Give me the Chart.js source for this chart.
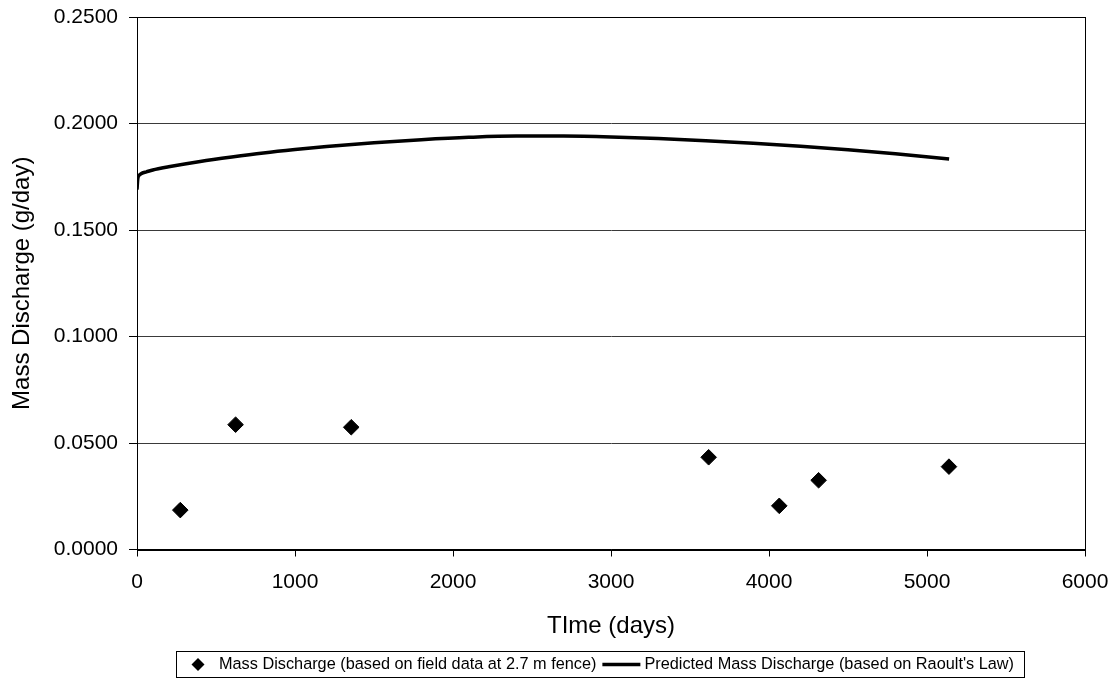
<!DOCTYPE html>
<html><head><meta charset="utf-8">
<script src="https://cdn.jsdelivr.net/npm/chart.js@4.4.1/dist/chart.umd.min.js"></script>
<style>html,body{margin:0;padding:0;background:#fff}</style>
</head><body>
<canvas id="c" width="1119" height="686"></canvas>
<script>
const fieldDays = [274, 624, 1356, 3618, 4065, 4314, 5139];
const fieldDischarge = [0.0185, 0.0586, 0.0574, 0.0433, 0.0205, 0.0325, 0.0389];
const predDays = [0, 5, 15, 30, 60, 100, 200, 400, 600, 800, 1000, 1200, 1500, 1800, 2100, 2400, 2700, 3000, 3300, 3600, 3900, 4200, 4500, 4800, 5140];
const predDischarge = [0.1690, 0.1740, 0.1758, 0.1766, 0.1773, 0.1782, 0.1797, 0.1822, 0.1843, 0.1862, 0.1878, 0.1892, 0.1910, 0.1924, 0.1935, 0.1941, 0.1941, 0.1937, 0.1929, 0.1919, 0.1907, 0.1893, 0.1877, 0.1858, 0.1833];
const seriesNames = ["Mass Discharge (based on field data at 2.7 m fence)", "Predicted Mass Discharge (based on Raoult's Law)"];
const xTitle = "TIme (days)";
const yTitle = "Mass Discharge (g/day)";

const FONT = "'Liberation Sans', Arial, sans-serif";

const boxPlugin = {
  id: 'box',
  afterDraw(chart) {
    const {ctx, chartArea: a} = chart;
    ctx.save();
    ctx.strokeStyle = '#000';
    ctx.lineWidth = 1;
    ctx.strokeRect(Math.round(a.left) + 0.5, Math.round(a.top) + 0.5, Math.round(a.right - a.left), Math.round(a.bottom - a.top));
    // legend
    ctx.font = '16.3px ' + FONT;
    ctx.textBaseline = 'middle';
    const w1 = ctx.measureText(seriesNames[0]).width;
    const w2 = ctx.measureText(seriesNames[1]).width;
    const padL = 22, g1 = 21, g2 = 6, lineW = 38, g3 = 4, padR = 10;
    const total = padL + g1 + w1 + g2 + lineW + g3 + w2 + padR;
    const cx = 599.5, y0 = 651, h = 26;
    const x = Math.round(cx - total / 2);
    ctx.strokeStyle = '#000';
    ctx.lineWidth = 1;
    ctx.strokeRect(x + 0.5, y0 + 0.5, Math.round(total), h);
    const ym = y0 + h / 2 + 0.5;
    let px = x + padL;
    ctx.fillStyle = '#000';
    ctx.beginPath();
    ctx.moveTo(px, ym - 6.5); ctx.lineTo(px + 6.5, ym); ctx.lineTo(px, ym + 6.5); ctx.lineTo(px - 6.5, ym); ctx.closePath();
    ctx.fill();
    px += g1;
    ctx.fillText(seriesNames[0], px, ym);
    px += w1 + g2;
    ctx.lineWidth = 3.5;
    ctx.beginPath(); ctx.moveTo(px, ym); ctx.lineTo(px + lineW, ym); ctx.stroke();
    px += lineW + g3;
    ctx.fillText(seriesNames[1], px, ym);
    ctx.restore();
  }
};

function zeroPad(s) { s.paddingTop = 0; s.paddingBottom = 0; s.paddingLeft = 0; s.paddingRight = 0; }

new Chart(document.getElementById('c'), {
  type: 'scatter',
  data: {
    datasets: [
      {
        label: seriesNames[0],
        data: fieldDays.map((d, i) => ({x: d, y: fieldDischarge[i]})),
        pointStyle: 'rectRot',
        pointRadius: 7.8,
        borderWidth: 1,
        pointBackgroundColor: '#000',
        pointBorderColor: '#000',
        showLine: false,
        order: 1
      },
      {
        label: seriesNames[1],
        data: predDays.map((d, i) => ({x: d, y: predDischarge[i]})),
        showLine: true,
        borderColor: '#000',
        borderWidth: 3.5,
        pointRadius: 0,
        cubicInterpolationMode: 'monotone',
        order: 2
      }
    ]
  },
  options: {
    responsive: false,
    animation: false,
    devicePixelRatio: 1,
    layout: {padding: {top: 17, right: 34, bottom: 45, left: 0}},
    plugins: {legend: {display: false}, tooltip: {enabled: false}},
    scales: {
      x: {
        type: 'linear', min: 0, max: 6000,
        ticks: {stepSize: 1000, color: '#000', font: {family: FONT, size: 21}, padding: 13, maxRotation: 0, callback: v => String(v)},
        grid: {display: true, drawOnChartArea: false, drawTicks: true, tickLength: 7, tickColor: '#000'},
        border: {color: '#000', width: 1},
        title: {display: true, text: xTitle, color: '#000', font: {family: FONT, size: 24}, padding: {top: 0, bottom: 0}},
        afterFit(s) { s.height = 91.5; zeroPad(s); }
      },
      y: {
        type: 'linear', min: 0, max: 0.25,
        ticks: {stepSize: 0.05, color: '#000', font: {family: FONT, size: 21}, padding: 11, callback: v => Number(v).toFixed(4)},
        grid: {display: true, drawOnChartArea: true, color: '#3a3a3a', lineWidth: 1, drawTicks: true, tickLength: 8, tickColor: '#000'},
        border: {color: '#000', width: 1},
        title: {display: true, text: yTitle, color: '#000', font: {family: FONT, size: 24}, padding: {top: 8, bottom: 0}},
        afterFit(s) { s.width = 137; zeroPad(s); }
      }
    }
  },
  plugins: [boxPlugin]
});
</script>
</body></html>
